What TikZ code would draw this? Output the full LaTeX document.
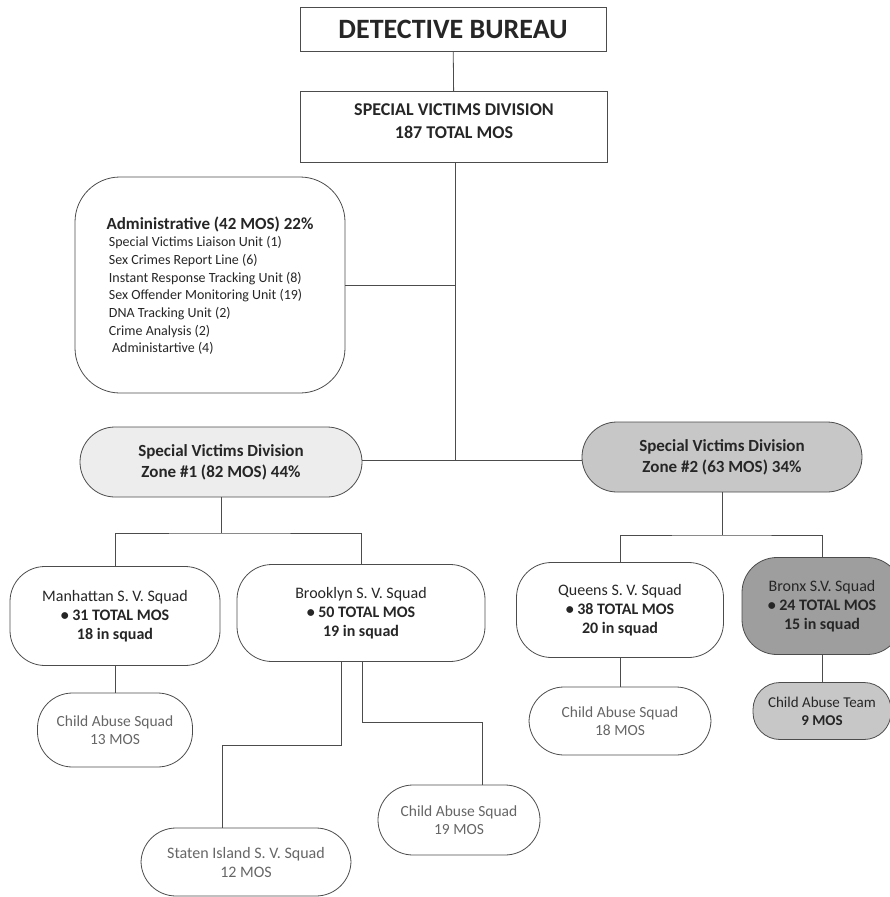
\documentclass[tikz,border=0pt]{standalone}
\usepackage{fontspec}
\setmainfont{Carlito}

\tikzset{
    size/.style 2 args={minimum width=#1pt, minimum height=#2pt},
    link/.style={draw=black!70, line width=0.8pt},
    unitbox/.style={draw=black!70, line width=0.8pt, align=center, inner sep=0pt,
        text=black!85, font=\fontsize{16}{19}\selectfont},
    pill/.style={unitbox, rounded corners=#1},
    pill/.default=35pt,
    abuse/.style={pill, text=black!60, font=\fontsize{15.5}{18.5}\selectfont}
}

\begin{document}
\begin{tikzpicture}[x=1pt, y=-1pt]
        \useasboundingbox (0,0) rectangle (890,897);

        % top of the bureau
        \node[unitbox, size={306}{44}, font=\fontsize{28}{32}\selectfont\bfseries] (bureau) at (453,29) {DETECTIVE BUREAU};
        \node[unitbox, size={307}{71}, font=\fontsize{18}{23}\selectfont\bfseries] (svd) at (454,127)
            {SPECIAL VICTIMS DIVISION\\187 TOTAL MOS\\[-12pt]};

        \node[pill=45pt, size={270}{216}, align=left, font=\fontsize{14}{17.7}\selectfont] (admin) at (210,285)
            {\mbox{}\\[-3.7pt]
             \textbf{\fontsize{17}{17.7}\selectfont Administrative (42 MOS) 22\%}\\
             \,Special Victims Liaison Unit (1)\\
             \,Sex Crimes Report Line (6)\\
             \,Instant Response Tracking Unit (8)\\
             \,Sex Offender Monitoring Unit (19)\\
             \,DNA Tracking Unit (2)\\
             \,Crime Analysis (2)\\
             \ \,Administartive (4)};

        % zones
        \node[pill, size={282}{70}, fill=black!7, font=\fontsize{17}{21}\selectfont\bfseries] (zone1) at (221,462)
            {Special Victims Division\\Zone \#1 (82 MOS) 44\%};
        \node[pill, size={280}{70}, fill=black!22, font=\fontsize{17}{21}\selectfont\bfseries] (zone2) at (722,457)
            {Special Victims Division\\Zone \#2 (63 MOS) 34\%};

        % squads
        \node[pill, size={210}{99}] (manh) at (115,616)
            {Manhattan S. V. Squad\\\textbf{\textbullet{} 31 TOTAL MOS}\\\textbf{18 in squad}};
        \node[pill, size={248}{97}] (bklyn) at (361,613)
            {Brooklyn S. V. Squad\\\textbf{\textbullet{} 50 TOTAL MOS}\\\textbf{19 in squad}};
        \node[pill, size={207}{95}] (queens) at (620,610)
            {Queens S. V. Squad\\\textbf{\textbullet{} 38 TOTAL MOS}\\\textbf{20 in squad}};
        \node[pill, size={160}{97}, fill=black!38] (bronx) at (822,606)
            {Bronx S.V. Squad\\\textbf{\textbullet{} 24 TOTAL MOS}\\\textbf{15 in squad}};

        % child abuse units
        \node[abuse, size={155}{74}] (cam) at (115,730) {Child Abuse Squad\\13 MOS};
        \node[abuse, size={182}{68}] (caq) at (620,721) {Child Abuse Squad\\18 MOS};
        \node[pill=27pt, size={138}{57}, fill=black!22, font=\fontsize{15}{18}\selectfont] (cax) at (822,711)
            {Child Abuse Team\\\textbf{9 MOS}};
        \node[abuse, size={162}{70}] (cab) at (459,820) {Child Abuse Squad\\19 MOS};
        \node[abuse, size={210}{68}, font=\fontsize{16}{19}\selectfont] (staten) at (246,862) {Staten Island S. V. Squad\\12 MOS};

        % bends of the lines
        \coordinate (hub) at (455,460);
        \coordinate (z1bus) at (221,533);
        \coordinate (z2bus) at (722,535);
        \coordinate (bkl) at (341,745);
        \coordinate (sil) at (222,745);
        \coordinate (bkr) at (362,722);
        \coordinate (car) at (482,722);

        \draw[link] (bureau) -- (svd);
        \draw[link] (svd.south -| hub) -- (hub);
        \draw[link] (admin.east) -- (admin.east -| hub);
        \draw[link] (zone1.east |- hub) -- (zone2.west |- hub);

        \draw[link] (zone1.south) -- (z1bus);
        \draw[link] (manh.north) |- (z1bus) -| (bklyn.north);
        \draw[link] (zone2.south) -- (z2bus);
        \draw[link] (queens.north) |- (z2bus) -| (bronx.north);

        \draw[link] (manh) -- (cam);
        \draw[link] (queens) -- (caq);
        \draw[link] (bronx) -- (cax);
        \draw[link] (bklyn.south -| bkl) -- (bkl) -- (sil) -- (sil |- staten.north);
        \draw[link] (bklyn.south -| bkr) -- (bkr) -- (car) -- (car |- cab.north);

    \end{tikzpicture}
\end{document}
